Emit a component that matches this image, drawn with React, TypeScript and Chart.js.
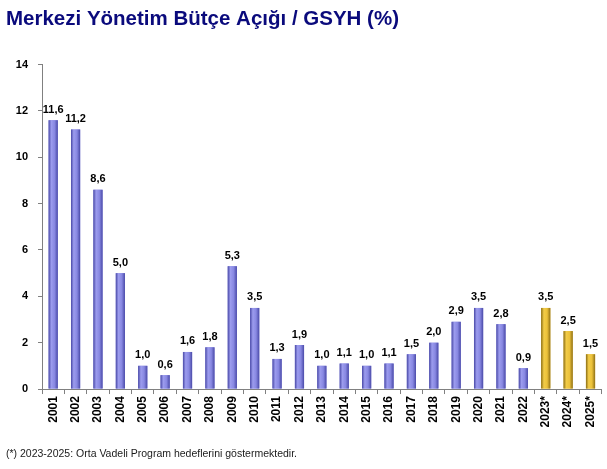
import React, { useEffect, useRef } from "react";
import { Chart, registerables } from "chart.js";

Chart.register(...registerables);

const years = [
  "2001", "2002", "2003", "2004", "2005", "2006", "2007", "2008", "2009", "2010",
  "2011", "2012", "2013", "2014", "2015", "2016", "2017", "2018", "2019", "2020",
  "2021", "2022", "2023*", "2024*", "2025*",
];
const deficit = [
  11.6, 11.2, 8.6, 5.0, 1.0, 0.6, 1.6, 1.8, 5.3, 3.5,
  1.3, 1.9, 1.0, 1.1, 1.0, 1.1, 1.5, 2.0, 2.9, 3.5,
  2.8, 0.9, 3.5, 2.5, 1.5,
];
const isTarget = [
  false, false, false, false, false, false, false, false, false, false,
  false, false, false, false, false, false, false, false, false, false,
  false, false, true, true, true,
];
const yTicks = [0, 2, 4, 6, 8, 10, 12, 14];
const titleText = "Merkezi Yönetim Bütçe Açığı / GSYH (%)";
const footnoteText = "(*) 2023-2025: Orta Vadeli Program hedeflerini göstermektedir.";

const FONT = "'Liberation Sans', Arial, sans-serif";

const BLUE = "#8888e4";
const GOLD = "#e6be3a";

// repaint each bar with a cylinder-like horizontal gradient
const gradientPlugin = {
  id: "barGradient",
  afterDatasetsDraw(chart: any) {
    const ctx = chart.ctx;
    const meta = chart.getDatasetMeta(0);
    ctx.save();
    meta.data.forEach((bar: any, i: number) => {
      const half = bar.width / 2;
      const left = bar.x - half;
      const g = ctx.createLinearGradient(left, 0, left + bar.width, 0);
      if (isTarget[i]) {
        g.addColorStop(0, "#8a6c14");
        g.addColorStop(0.3, "#f2cc48");
        g.addColorStop(0.65, "#ebc13a");
        g.addColorStop(1, "#8f7016");
      } else {
        g.addColorStop(0, "#4848a6");
        g.addColorStop(0.3, "#9c9cee");
        g.addColorStop(0.65, "#8888e2");
        g.addColorStop(1, "#4a4aa8");
      }
      ctx.fillStyle = g;
      const top = Math.min(bar.y, bar.base);
      ctx.fillRect(left, top, bar.width, Math.abs(bar.base - bar.y));
    });
    ctx.restore();
  },
};

const labelPlugin = {
  id: "valueLabels",
  afterDatasetsDraw(chart: any) {
    const ctx = chart.ctx;
    const meta = chart.getDatasetMeta(0);
    ctx.save();
    ctx.font = `bold 11px ${FONT}`;
    ctx.fillStyle = "#000";
    ctx.textAlign = "center";
    ctx.textBaseline = "bottom";
    meta.data.forEach((bar: any, i: number) => {
      const txt = deficit[i].toFixed(1).replace(".", ",");
      ctx.fillText(txt, bar.x, bar.y - 5);
    });
    ctx.restore();
  },
};

export default function App() {
  const ref = useRef<HTMLCanvasElement>(null);
  useEffect(() => {
    document.body.style.margin = "0";
    const chart = new Chart(ref.current!, {
      type: "bar",
      data: {
        labels: years,
        datasets: [
          {
            data: deficit,
            backgroundColor: isTarget.map((t) => (t ? GOLD : BLUE)),
            barPercentage: 0.41,
            categoryPercentage: 1,
          },
        ],
      },
      plugins: [gradientPlugin, labelPlugin],
      options: {
        animation: false,
        responsive: false,
        maintainAspectRatio: false,
        layout: { padding: { left: 6, right: 4, top: 0, bottom: 4 } },
        plugins: {
          legend: { display: false },
          tooltip: { enabled: false },
          title: {
            display: true,
            text: titleText,
            align: "start",
            color: "#0a0a7c",
            font: { family: FONT, size: 20.5, weight: "bold" },
            padding: { top: 7, bottom: 33 },
          },
          subtitle: {
            display: true,
            position: "bottom",
            text: footnoteText,
            align: "start",
            color: "#1a1a1a",
            font: { family: FONT, size: 10.5, weight: "normal" },
            padding: { top: 18, bottom: 5 },
          },
        },
        scales: {
          x: {
            offset: true,
            grid: {
              display: true,
              offset: true,
              drawOnChartArea: false,
              drawTicks: true,
              tickLength: 5,
              color: "#808080",
            },
            border: { display: true, color: "#808080", width: 1 },
            ticks: {
              autoSkip: false,
              maxRotation: 90,
              minRotation: 90,
              color: "#000",
              padding: 2,
              font: { family: FONT, size: 12, weight: "bold" },
            },
          },
          y: {
            min: 0,
            max: 14,
            afterBuildTicks: (axis: any) => {
              axis.ticks = yTicks.map((v) => ({ value: v }));
            },
            afterFit: (axis: any) => {
              axis.width = 36;
            },
            grid: {
              display: true,
              drawOnChartArea: false,
              drawTicks: true,
              tickLength: 4,
              color: "#808080",
            },
            border: { display: true, color: "#808080", width: 1 },
            ticks: {
              color: "#000",
              padding: 10,
              font: { family: FONT, size: 11, weight: "bold" },
            },
          },
        },
      },
    });
    return () => chart.destroy();
  }, []);
  return (
    <div style={{ width: 607, height: 469, background: "#fff" }}>
      <canvas ref={ref} width={607} height={469} style={{ width: 607, height: 469 }} />
    </div>
  );
}
